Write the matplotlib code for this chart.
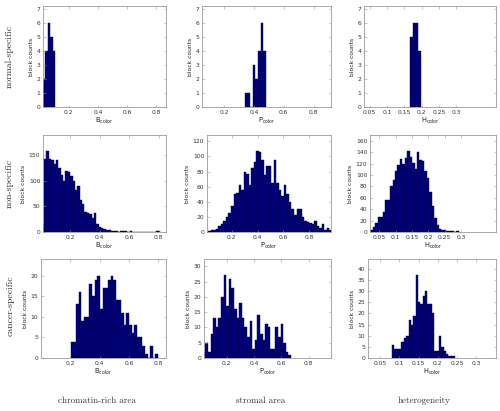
import numpy as np
import matplotlib
matplotlib.use("Agg")
import matplotlib.pyplot as plt

# ---------------- data ----------------
row_labels = ["normal-specific", "non-specific", "cancer-specific"]
col_labels = ["chromatin-rich area", "stromal area", "heterogeneity"]
x_names = ["B", "P", "H"]

# normal-specific
ns_B_start, ns_B_width = 0.0205, 0.0177
ns_B_counts = [2, 4, 6, 5, 4]
ns_P_start, ns_P_width = 0.337, 0.018
ns_P_counts = [1, 1, 0, 3, 2, 4, 6, 4]
ns_H_start, ns_H_width = 0.167, 0.0075
ns_H_counts = [5, 6, 6, 4]

# non-specific
no_B_start, no_B_width = 0.007, 0.0161
no_B_counts = [15, 143, 158, 143, 140, 133, 141, 125, 112, 100, 120, 118, 110, 100,
               82, 90, 62, 55, 40, 38, 35, 28, 38, 15, 10, 7, 5, 4, 3, 2, 2, 1, 0,
               2, 1, 2, 0, 1, 0, 0, 0, 0, 0, 0, 0, 0, 0, 0, 1, 1]
no_P_start, no_P_width = 0.019, 0.0195
no_P_counts = [1, 2, 3, 4, 8, 10, 15, 20, 25, 35, 50, 52, 62, 55, 80, 77, 62, 85, 92,
               107, 106, 95, 75, 88, 87, 65, 95, 65, 55, 48, 62, 50, 40, 30, 22, 30,
               30, 20, 15, 13, 12, 10, 15, 8, 5, 10, 2, 5, 2]
no_H_start, no_H_width = 0.0225, 0.0075
no_H_counts = [3, 8, 15, 26, 27, 35, 56, 57, 80, 92, 108, 118, 128, 120, 130, 142, 132,
               122, 110, 140, 127, 125, 108, 95, 70, 45, 25, 12, 6, 4, 3, 2, 1, 1, 0, 1]

# cancer-specific
ca_B_start, ca_B_width = 0.204, 0.018
ca_B_counts = [4, 4, 13, 16, 9, 10, 10, 18, 15, 19, 20, 12, 17, 17, 19, 20, 19, 14, 14,
               11, 8, 11, 8, 6, 8, 5, 5, 3, 1, 0, 3, 0, 1]
ca_P_start, ca_P_width = 0.025, 0.019
ca_P_counts = [2, 5, 2, 8, 13, 10, 13, 20, 27, 17, 26, 23, 16, 13, 18, 13, 10, 7, 12, 3,
               6, 14, 8, 6, 11, 10, 3, 3, 10, 7, 11, 5, 2, 1]
ca_H_start, ca_H_width = 0.081, 0.0061
ca_H_counts = [6, 4, 4, 4, 7, 9, 10, 17, 15, 19, 37, 25, 24, 28, 30, 24, 24, 20, 3, 3,
               10, 5, 3, 2, 1, 1, 1]

hists = [
    [(ns_B_start, ns_B_width, ns_B_counts), (ns_P_start, ns_P_width, ns_P_counts), (ns_H_start, ns_H_width, ns_H_counts)],
    [(no_B_start, no_B_width, no_B_counts), (no_P_start, no_P_width, no_P_counts), (no_H_start, no_H_width, no_H_counts)],
    [(ca_B_start, ca_B_width, ca_B_counts), (ca_P_start, ca_P_width, ca_P_counts), (ca_H_start, ca_H_width, ca_H_counts)],
]

x_limits = [
    [(0.025, 0.865), (0.052, 0.917), (0.034, 0.414)],
    [(0.016, 0.85), (0.009, 0.968), (0.021, 0.407)],
    [(0.0, 0.852), (0.034, 0.963), (0.018, 0.352)],
]
x_ticks_BP = [0.2, 0.4, 0.6, 0.8]
x_ticks_H = [0.05, 0.1, 0.15, 0.2, 0.25, 0.3]
x_ticklabels_BP = ["0.2", "0.4", "0.6", "0.8"]
x_ticklabels_H = ["0.05", "0.1", "0.15", "0.2", "0.25", "0.3"]
y_tick_steps = [[1, 1, 1], [50, 20, 20], [5, 5, 5]]

# ---------------- layout ----------------
W, H = 500, 411
fig = plt.figure(figsize=(W / 100, H / 100), dpi=100)

# axes boxes in pixels: left, top, right, bottom
boxes = [
    [(43, 6, 166, 107), (202, 6, 331, 107), (364, 6, 496, 107)],
    [(43, 135, 166, 232), (207, 135, 331, 232), (370, 135, 496, 232)],
    [(41, 259, 166, 358), (204, 259, 331, 358), (368, 259, 496, 358)],
]

bar_color = "#00007f"
frame_color = "#9a9a9a"
tick_fs = 4.3

for r in range(3):
    for c in range(3):
        l, t, rr, b = boxes[r][c]
        ax = fig.add_axes([l / W, 1 - b / H, (rr - l) / W, (b - t) / H])
        start, width, counts = hists[r][c]
        counts = np.array(counts, dtype=float)
        lefts = start + width * np.arange(len(counts))
        ax.bar(lefts, counts, width=width, align="edge", color=bar_color,
               edgecolor="#000040", linewidth=0.3)
        ax.set_xlim(*x_limits[r][c])
        ymax = counts.max() * 1.2
        ax.set_ylim(0, ymax)
        step = y_tick_steps[r][c]
        ax.set_yticks(np.arange(0, ymax + 1e-9, step))
        if c < 2:
            ax.set_xticks(x_ticks_BP)
            ax.set_xticklabels(x_ticklabels_BP)
        else:
            ax.set_xticks(x_ticks_H)
            ax.set_xticklabels(x_ticklabels_H)
        ax.tick_params(direction="in", length=1.8, width=0.4, colors="#333333",
                       labelsize=tick_fs, pad=2, top=True, right=True)
        ax.tick_params(axis="both", color=frame_color)
        for s in ax.spines.values():
            s.set_color(frame_color)
            s.set_linewidth(0.6)
        ax.set_ylabel("block counts", fontsize=4.3, color="#222222", labelpad=2)
        ax.set_xlabel(x_names[c] + r"$_{\rm color}$", fontsize=4.8, color="#222222",
                      labelpad=1)

# row labels
row_centers = [56, 183, 306]
for lab, yc in zip(row_labels, row_centers):
    fig.text(10 / W, 1 - yc / H, lab, rotation=90, ha="center", va="center",
             fontsize=7, family="cmr10", color="#333333")

# column labels
col_centers = [97, 261, 424]
for lab, xc in zip(col_labels, col_centers):
    fig.text(xc / W, 1 - 401 / H, lab, ha="center", va="center",
             fontsize=6.5, family="cmr10", color="#333333")

fig.savefig("out.png", dpi=100)
